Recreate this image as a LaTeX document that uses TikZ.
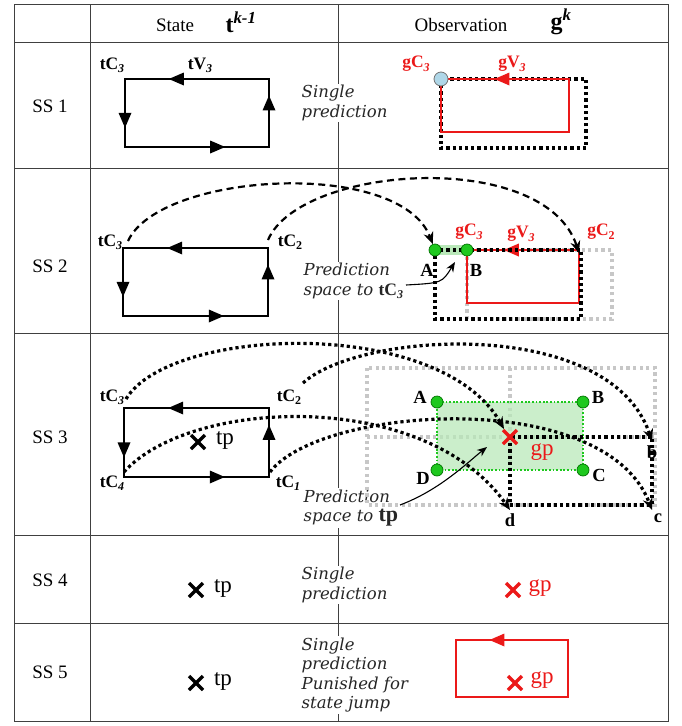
\documentclass[tikz,border=0pt]{standalone}
\usepackage{fontspec}
\setmainfont{Liberation Serif}
\newfontfamily\notefont{DejaVu Serif}
\usetikzlibrary{arrows.meta,decorations.markings}
\definecolor{ored}{RGB}{235,25,25}
\definecolor{gdot}{RGB}{30,200,30}
\definecolor{gfill}{RGB}{185,232,185}
\definecolor{lblue}{RGB}{175,215,232}
\newcommand{\lsub}[1]{\raisebox{-0.4ex}{\fontsize{12}{12}\selectfont\bfseries\itshape #1}}
\newcommand{\usub}[1]{\raisebox{-0.4ex}{\fontsize{12}{12}\selectfont\bfseries #1}}
\tikzset{
  gridline/.style={line width=1pt, black!75},
  rowlab/.style={font=\fontsize{19}{19}\selectfont, inner sep=0pt},
  head/.style={font=\fontsize{19}{19}\selectfont, inner sep=0pt},
  note/.style={font=\notefont\itshape\fontsize{16.5}{19.5}\selectfont, align=left, fill=white, inner sep=1.5pt, anchor=west, text=black!85},
  lab/.style={font=\fontsize{17.5}{17.5}\selectfont\bfseries, inner sep=0pt},
  rlab/.style={lab, text=ored},
  biglab/.style={lab, font=\fontsize{18.5}{18.5}\selectfont\bfseries},
  bigtxt/.style={font=\fontsize{23}{23}\selectfont, inner sep=0pt},
  edge/.style={line width=2.8pt, black, line cap=rect, postaction={decorate},
    decoration={markings, mark=at position #1 with {\fill[black] (8,0) -- (-7,6.5) -- (-7,-6.5) -- cycle;}}},
  edge/.default=0.64,
  redge/.style={line width=2.2pt, ored, line cap=rect, postaction={decorate},
    decoration={markings, mark=at position #1 with {\fill[ored] (8,0) -- (-7,6.5) -- (-7,-6.5) -- cycle;}}},
  redge/.default=0.55,
  redline/.style={line width=2.2pt, ored, line cap=rect},
  dashcurve/.style={line width=2.2pt, dash pattern=on 7pt off 4.5pt, -{Stealth[length=12pt,width=10pt]}},
  dotcurve/.style={line width=3.2pt, dash pattern=on 3.2pt off 3pt, -{Stealth[length=12pt,width=10pt]}},
  bdot/.style={line width=3.2pt, dash pattern=on 3.2pt off 3pt},
  gdotted/.style={line width=3.2pt, dash pattern=on 3.2pt off 3.4pt, black!22},
  gpt/.style={circle, fill=gdot, draw=green!45!black, line width=0.7pt, inner sep=0pt, minimum size=12pt},
  thinarrow/.style={line width=1.1pt, -{Stealth[length=10pt,width=8pt]}},
  xcross/.pic={\draw[line width=3.4pt] (-7,-7) -- (7,7) (-7,7) -- (7,-7);}
}
\begin{document}
\begin{tikzpicture}[x=1pt,y=-1pt]
\useasboundingbox (0,0) rectangle (682,726);
% ---------------- grid
\draw[gridline] (14,4) rectangle (668,721);
\draw[gridline] (90,4) -- (90,721);
\draw[gridline] (338,4) -- (338,721);
\foreach \yy in {42,168,333,535,623} \draw[gridline] (14,\yy) -- (668,\yy);
% ---------------- header
\node[head] (hs) at (175,25) {State};
\node[head, font=\fontsize{24}{24}\selectfont] (ht) at (241,22) {\bfseries t\textsuperscript{\itshape k-1}};
\node[head] (ho) at (461,25) {Observation};
\node[head, font=\fontsize{24}{24}\selectfont] (hg) at (561,22) {\bfseries g\textsuperscript{\itshape k}};
% ---------------- row labels
\node[rowlab] (r1) at (50,106) {SS 1};
\node[rowlab] (r2) at (50,266) {SS 2};
\node[rowlab] (r3) at (50,437) {SS 3};
\node[rowlab] (r4) at (50,580) {SS 4};
\node[rowlab] (r5) at (50,672) {SS 5};

% ================= SS1
\coordinate (s1a) at (125,79); \coordinate (s1b) at (269,79);
\coordinate (s1c) at (269,147); \coordinate (s1d) at (125,147);
\draw[edge] (s1b) -- (s1a); \draw[edge=0.6] (s1a) -- (s1d);
\draw[edge] (s1d) -- (s1c); \draw[edge] (s1c) -- (s1b);
\node[lab] (l1c3) at (112,65) {tC\lsub{3}};
\node[lab] (l1v3) at (200,65) {tV\lsub{3}};
\node[note] (n1) at (300,103) {Single\\prediction};
% obs
\coordinate (o1a) at (441,79); \coordinate (o1b) at (569,79);
\coordinate (o1c) at (569,132); \coordinate (o1d) at (441,132);
\coordinate (o1e) at (586,148);
\draw[bdot] (o1a) rectangle (o1e);
\draw[redline] (o1a) -- (o1d) -- (o1c) -- (o1b);
\draw[redge=0.52] (o1b) -- (o1a);
\node[circle, fill=lblue, draw=black!55, line width=0.8pt, minimum size=14pt, inner sep=0pt] (o1p) at (o1a) {};
\node[rlab] (g1c3) at (416,64) {gC\lsub{3}};
\node[rlab] (g1v3) at (512,64) {gV\lsub{3}};

% ================= SS2
\coordinate (s2a) at (123,248); \coordinate (s2b) at (268,248);
\coordinate (s2c) at (268,316); \coordinate (s2d) at (123,316);
\draw[edge] (s2b) -- (s2a); \draw[edge=0.6] (s2a) -- (s2d);
\draw[edge] (s2d) -- (s2c); \draw[edge] (s2c) -- (s2b);
\node[lab] (l2c3) at (110,242) {tC\lsub{3}};
\node[lab] (l2c2) at (290,242) {tC\usub{2}};
\node[note] (n2) at (302,281) {Prediction\\space to {\rmfamily\upshape\bfseries\fontsize{17.5}{16}\selectfont tC\lsub{3}}};
% obs
\draw[gdotted] (467,250) rectangle (612,319);
\draw[line width=10pt, gfill] (435,250) -- (467,250);
\draw[redline] (467,250) -- (467,303) -- (579,303) -- (579,250);
\draw[redge=0.6] (579,250) -- (467,250);
\draw[bdot] (435,250) rectangle (581,319);
\node[gpt] (A2) at (435,250) {};
\node[gpt] (B2) at (467,250) {};
\coordinate (C2) at (579,250);
\node[rlab] (g2c3) at (469,232) {gC\lsub{3}};
\node[rlab] (g2v3) at (521,234) {gV\lsub{3}};
\node[rlab] (g2c2) at (601,232) {gC\usub{2}};
\node[biglab] (la2) at (427,270) {A};
\node[biglab] (lb2) at (476,270) {B};
% curves
\coordinate (st23) at (128,241);
\coordinate (st22) at (268,240);
\draw[dashcurve] (st23) .. controls (160,172) and (400,158) .. (A2);
\draw[dashcurve] (st22) .. controls (300,165) and (545,148) .. ([yshift=-3pt]C2);
\coordinate (p2s) at (406,285);
\coordinate (p2e) at (455,262);
\draw[thinarrow] (p2s) .. controls (442,283) .. (p2e);

% ================= SS3
\coordinate (s3a) at (124,408); \coordinate (s3b) at (269,408);
\coordinate (s3c) at (269,477); \coordinate (s3d) at (124,477);
\draw[edge] (s3b) -- (s3a); \draw[edge=0.6] (s3a) -- (s3d);
\draw[edge] (s3d) -- (s3c); \draw[edge] (s3c) -- (s3b);
\node[lab] (l3c3) at (112,397) {tC\lsub{3}};
\node[lab] (l3c2) at (289,397) {tC\usub{2}};
\node[lab] (l3c4) at (112,483) {tC\lsub{4}};
\node[lab] (l3c1) at (288,483) {tC\lsub{1}};
\pic (x3) at (198,442) {xcross};
\node[bigtxt] (tp3) at (225,440) {tp};
\node[note] (n3) at (302,508) {Prediction\\space to {\rmfamily\upshape\bfseries\fontsize{22}{16}\selectfont tp}};
% obs grid
\draw[gdotted] (367,368) rectangle (655,505);
\draw[gdotted] (510,368) -- (510,505);
\draw[gdotted] (367,437) -- (655,437);
\fill[gfill, opacity=0.75] (437,402) rectangle (583,470);
\draw[gdot, line width=1.8pt, dash pattern=on 1.8pt off 1.8pt] (437,402) rectangle (583,470);
\draw[bdot] (510,437) rectangle (652,505);
\node[gpt] (A3) at (437,402) {};
\node[gpt] (B3) at (583,402) {};
\node[gpt] (C3) at (583,470) {};
\node[gpt] (D3) at (437,470) {};
\coordinate (gp3) at (510,437);
\coordinate (bb3) at (652,437);
\coordinate (cc3) at (652,505);
\coordinate (dd3) at (510,505);
\node[biglab] (la3) at (420,397) {A};
\node[biglab] (lb3) at (598,397) {B};
\node[biglab] (lc3) at (599,475) {C};
\node[biglab] (ld3) at (423,478) {D};
\node[biglab] (lbb) at (652,452) {b};
\node[biglab] (lcc) at (658,518) {c};
\node[biglab] (ldd) at (510,520) {d};
% curves
\coordinate (st33) at (126,399);
\coordinate (st32) at (303,383);
\coordinate (st34) at (124,472);
\coordinate (st31) at (270,472);
\draw[dotcurve] (st33) .. controls (170,326) and (440,316) .. ([shift={(-6,-8)}]gp3);
\draw[dotcurve] (st32) .. controls (360,331) and (610,316) .. ([yshift=-4pt]bb3);
\draw[dotcurve] (st34) .. controls (190,398) and (425,388) .. ([yshift=-5pt]dd3);
\draw[dotcurve] (st31) .. controls (320,406) and (605,386) .. ([yshift=-5pt]cc3);
\pic[ored] (x3r) at (gp3) {xcross};
\node[bigtxt, text=ored] (gpl3) at (542,452) {gp};
\coordinate (p3s) at (400,505);
\coordinate (p3e) at (487,447);
\draw[thinarrow] (p3s) .. controls (440,490) and (468,462) .. (p3e);

% ================= SS4
\pic (x4) at (196,590) {xcross};
\node[bigtxt] (tp4) at (223,588) {tp};
\node[note] (n4) at (300,585) {Single\\prediction};
\pic[ored] (x4r) at (513,590) {xcross};
\node[bigtxt, text=ored] (gp4) at (540,588) {gp};

% ================= SS5
\pic (x5) at (196,683) {xcross};
\node[bigtxt] (tp5) at (223,681) {tp};
\node[note] (n5) at (300,675) {Single\\prediction\\Punished for\\state jump};
\coordinate (r5a) at (456,640); \coordinate (r5b) at (568,640);
\coordinate (r5c) at (568,697); \coordinate (r5d) at (456,697);
\draw[redline] (r5a) -- (r5d) -- (r5c) -- (r5b);
\draw[redge=0.63] (r5b) -- (r5a);
\pic[ored] (x5r) at (515,683) {xcross};
\node[bigtxt, text=ored] (gp5) at (542,680) {gp};
\end{tikzpicture}
\end{document}
